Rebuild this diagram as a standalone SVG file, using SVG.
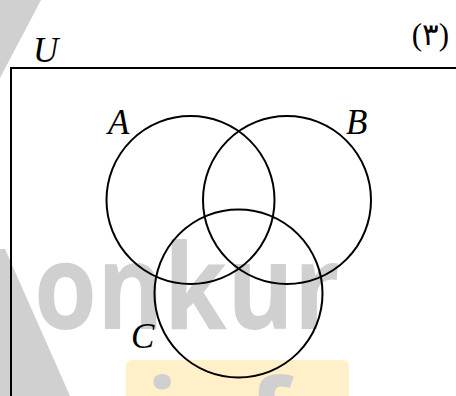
<svg xmlns="http://www.w3.org/2000/svg" width="456" height="396" viewBox="0 0 456 396">
  <style>
    .wm { fill: #d0d0d0; }
    .set { fill: none; stroke: #000; stroke-width: 2; }
    .lbl { font-family: "Liberation Serif", "Times New Roman", serif; font-style: italic; font-size: 35px; fill: #000; }
  </style>
  <rect width="456" height="396" fill="#fff"/>
  <g id="watermark">
    <polygon class="wm" points="0,0 41,0 0,78"/>
    <polygon class="wm" points="0,249 5,249 70,396 0,396"/>
    <text class="wm" x="34" y="329" font-family="'Open Sans', 'Liberation Sans', sans-serif" font-weight="bold" font-size="118" textLength="306" lengthAdjust="spacingAndGlyphs">onkur</text>
    <rect x="126" y="360" width="223" height="60" rx="6" fill="#fff0c9"/>
    <text class="wm" x="146" y="455" font-family="'Open Sans', 'Liberation Sans', sans-serif" font-weight="bold" font-size="106">info</text>
  </g>
  <g id="universe">
    <path d="M456 68 H11 V396" fill="none" stroke="#000" stroke-width="2"/>
    <text class="lbl" x="33" y="62">U</text>
  </g>
  <g id="setA">
    <circle class="set" cx="190.5" cy="200" r="84"/>
    <text class="lbl" x="108" y="134">A</text>
  </g>
  <g id="setB">
    <circle class="set" cx="287" cy="200" r="84"/>
    <text class="lbl" x="346" y="134">B</text>
  </g>
  <g id="setC">
    <circle class="set" cx="238.5" cy="293.5" r="84"/>
    <text class="lbl" x="131" y="348">C</text>
  </g>
  <g id="connectors"></g>
  <text x="449" y="45" text-anchor="end" font-family="'Liberation Serif', 'DejaVu Sans', serif" font-size="31" fill="#000">(۳)</text>
</svg>
